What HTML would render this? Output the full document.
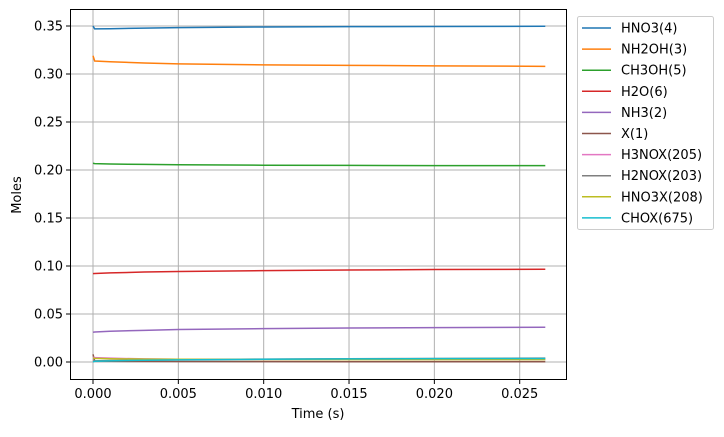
<!DOCTYPE html>
<html><head><meta charset="utf-8"><style>
body{margin:0;background:#fff;}
svg{font-family:"DejaVu Sans","Liberation Sans",sans-serif;}
</style></head><body>
<svg id="chart" width="724" height="432" viewBox="0 0 724 432" xmlns="http://www.w3.org/2000/svg">
<g id="grid"></g>
<g id="series"></g>
<rect x="70.5" y="9.5" width="496" height="370" fill="none" stroke="#000" stroke-width="1"/>
<g id="axes"></g>
<text x="318" y="418" font-size="13" text-anchor="middle">Time  (s)</text>
<text transform="translate(21,195) rotate(-90)" font-size="13" text-anchor="middle">Moles</text>
<g id="legend"></g>
</svg>
<script>
const times = [0, 0.0001, 0.001, 0.003, 0.005, 0.01, 0.015, 0.02, 0.0265];
const names = ["HNO3(4)","NH2OH(3)","CH3OH(5)","H2O(6)","NH3(2)","X(1)","H3NOX(205)","H2NOX(203)","HNO3X(208)","CHOX(675)"];
const colors = ["#1f77b4","#ff7f0e","#2ca02c","#d62728","#9467bd","#8c564b","#e377c2","#7f7f7f","#bcbd22","#17becf"];
const sHNO3  = [0.350,0.347,0.3472,0.3478,0.3483,0.3490,0.3493,0.3495,0.3497];
const sNH2OH = [0.319,0.3135,0.3128,0.3115,0.3105,0.3095,0.3090,0.3085,0.3080];
const sCH3OH = [0.207,0.2066,0.2063,0.2058,0.2055,0.2050,0.2048,0.2046,0.2045];
const sH2O   = [0.092,0.0922,0.0928,0.0937,0.0943,0.0952,0.0958,0.0963,0.0966];
const sNH3   = [0.031,0.0313,0.0320,0.0330,0.0338,0.0348,0.0354,0.0358,0.0362];
const sX     = [0.008,0.0010,0.0008,0.0006,0.0005,0.0004,0.0003,0.0003,0.0003];
const sH3NOX = [0.005,0.0045,0.0040,0.0032,0.0028,0.0026,0.0025,0.0024,0.0024];
const sH2NOX = [0.001,0.0012,0.0015,0.0020,0.0024,0.0030,0.0034,0.0037,0.0040];
const sHNO3X = [0.004,0.0038,0.0034,0.0030,0.0028,0.0026,0.0025,0.0025,0.0025];
const sCHOX  = [0.000,0.0008,0.0012,0.0018,0.0022,0.0028,0.0032,0.0035,0.0037];
const xTicks = ["0.000","0.005","0.010","0.015","0.020","0.025"];
const yTicks = ["0.00","0.05","0.10","0.15","0.20","0.25","0.30","0.35"];
const allSeries = [sHNO3,sNH2OH,sCH3OH,sH2O,sNH3,sX,sH3NOX,sH2NOX,sHNO3X,sCHOX];

const NS="http://www.w3.org/2000/svg";
const xs = t => 93 + t*(426.7/0.025);
const ys = v => 362 - v*(336/0.35);
function mk(tag, parent, attrs){const e=document.createElementNS(NS,tag);for(const k in attrs)e.setAttribute(k,attrs[k]);parent.appendChild(e);return e;}
const grid=document.getElementById('grid'), axes=document.getElementById('axes'), ser=document.getElementById('series'), leg=document.getElementById('legend');

xTicks.forEach(l=>{const x=xs(parseFloat(l));
  const g=mk('line',grid,{x1:x,x2:x,y1:10,y2:379,stroke:'#b0b0b0','stroke-width':1});
  
  
  const t=mk('line',axes,{x1:x,x2:x,y1:380,y2:384,stroke:'#000','stroke-width':1});
  
  
  const tx=mk('text',axes,{x:x,y:398,'font-size':13,'text-anchor':'middle'});tx.textContent=l;
  
  
});
yTicks.forEach(l=>{const y=ys(parseFloat(l));
  const g=mk('line',grid,{x1:71,x2:566,y1:y,y2:y,stroke:'#b0b0b0','stroke-width':1});
  
  
  const t=mk('line',axes,{x1:66,x2:70,y1:y,y2:y,stroke:'#000','stroke-width':1});
  
  
  const tx=mk('text',axes,{x:63,y:y+4.5,'font-size':13,'text-anchor':'end'});tx.textContent=l;
  
  
});
allSeries.forEach((s,i)=>{
  const d=s.map((v,j)=>(j?'L':'M')+xs(times[j]).toFixed(2)+','+ys(v).toFixed(2)).join(' ');
  const p=mk('path',ser,{d:d,fill:'none',stroke:colors[i],'stroke-width':1.5});
  
  
});
const box=mk('rect',leg,{x:577.5,y:16.5,width:136,height:213,rx:2,fill:'#fff','fill-opacity':0.8,stroke:'#ccc'});


names.forEach((n,i)=>{const y=28+i*21.1;
  const g=mk('g',leg,{});
  
  
  mk('line',g,{x1:582,x2:611,y1:y,y2:y,stroke:colors[i],'stroke-width':1.5});
  const t=mk('text',g,{x:621,y:y+4.5,'font-size':13});t.textContent=n;
});
</script>
</body></html>
